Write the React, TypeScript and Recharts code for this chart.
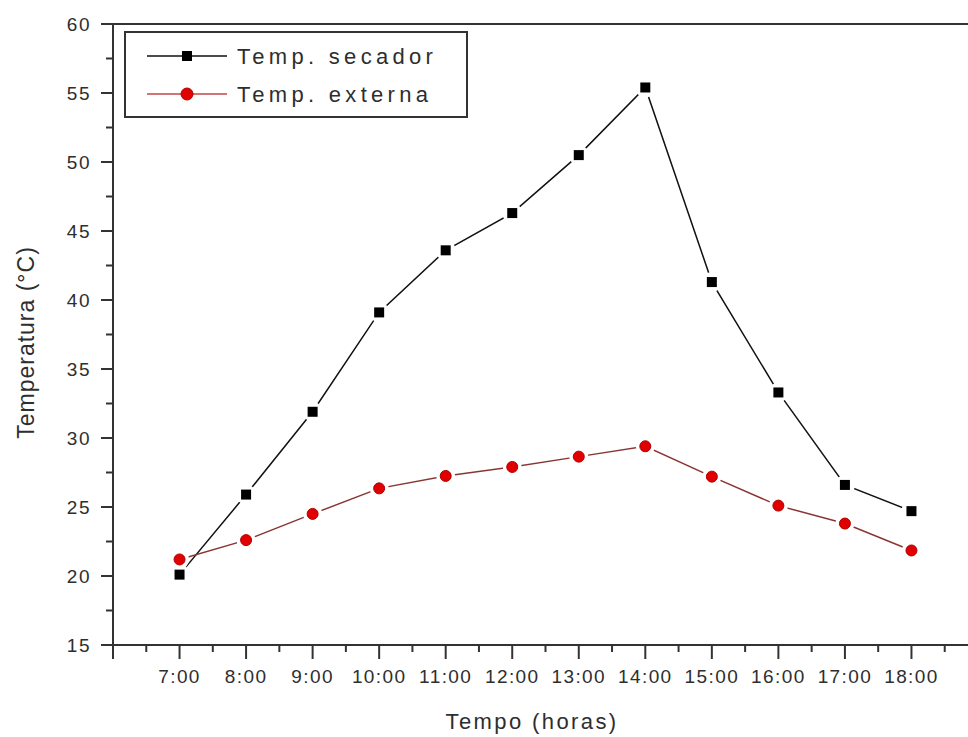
import React from 'react';
import { ComposedChart, Line, Scatter, XAxis, YAxis, Legend, ReferenceLine, Label } from 'recharts';

const hours = [7, 8, 9, 10, 11, 12, 13, 14, 15, 16, 17, 18];
const hourLabels = ['7:00', '8:00', '9:00', '10:00', '11:00', '12:00', '13:00', '14:00', '15:00', '16:00', '17:00', '18:00'];
const tempSecador = [20.1, 25.9, 31.9, 39.1, 43.6, 46.3, 50.5, 55.4, 41.3, 33.3, 26.6, 24.7];
const tempExterna = [21.2, 22.6, 24.5, 26.35, 27.25, 27.9, 28.65, 29.4, 27.2, 25.1, 23.8, 21.85];
const xTicks = [6, 6.5, 7, 7.5, 8, 8.5, 9, 9.5, 10, 10.5, 11, 11.5, 12, 12.5, 13, 13.5, 14, 14.5, 15, 15.5, 16, 16.5, 17, 17.5, 18, 18.5, 19];
const yTicks = [15, 17.5, 20, 22.5, 25, 27.5, 30, 32.5, 35, 37.5, 40, 42.5, 45, 47.5, 50, 52.5, 55, 57.5, 60];
const seriesNames = ['Temp. secador', 'Temp. externa'];

const data = hours.map((h, i) => ({ hour: h, secador: tempSecador[i], externa: tempExterna[i] }));

const FONT = '"Liberation Sans", Arial, sans-serif';
const AXIS = '#333';
const TEXT = '#2e2e2e';
const RED_LINE = '#8a3535';

const XTick = (props: any) => {
  const { x, y, payload } = props;
  const v = payload.value;
  const major = Number.isInteger(v);
  const idx = hours.indexOf(v);
  return (
    <g>
      <line x1={x} y1={y} x2={x} y2={y + (major ? 14 : 7)} stroke={AXIS} strokeWidth={2} />
      {idx >= 0 && (
        <text x={x} y={y + 38} textAnchor="middle" fontFamily={FONT} fontSize={19} letterSpacing={1.4} fill={TEXT}>
          {hourLabels[idx]}
        </text>
      )}
    </g>
  );
};

const YTick = (props: any) => {
  const { x, y, payload } = props;
  const v = payload.value;
  const major = v % 5 === 0;
  return (
    <g>
      <line x1={x - (major ? 12 : 7)} y1={y} x2={x} y2={y} stroke={AXIS} strokeWidth={2} />
      {major && (
        <text x={x - 22} y={y + 7} textAnchor="end" fontFamily={FONT} fontSize={19} letterSpacing={1.5} fill={TEXT}>
          {v}
        </text>
      )}
    </g>
  );
};

const SquareShape = (props: any) => {
  const { cx, cy } = props;
  if (cx == null || cy == null) return null;
  return (
    <g>
      <circle cx={cx} cy={cy} r={10} fill="#fff" />
      <rect x={cx - 5} y={cy - 5} width={10} height={10} fill="#000" />
    </g>
  );
};

const CircleShape = (props: any) => {
  const { cx, cy } = props;
  if (cx == null || cy == null) return null;
  return (
    <g>
      <circle cx={cx} cy={cy} r={9.5} fill="#fff" />
      <circle cx={cx} cy={cy} r={5.5} fill="#e00000" stroke="#b00000" strokeWidth={1} />
    </g>
  );
};

const LegendBox = () => (
  <svg width={344} height={87} style={{ display: 'block' }}>
    <rect x={1} y={1} width={342} height={85} fill="#fff" stroke={AXIS} strokeWidth={2} />
    <line x1={23} y1={25} x2={103} y2={25} stroke="#111" strokeWidth={1.5} />
    <rect x={58} y={20} width={10} height={10} fill="#000" />
    <text x={113} y={33} fontFamily={FONT} fontSize={22} letterSpacing={4.3} fill={TEXT}>{seriesNames[0]}</text>
    <line x1={23} y1={63} x2={103} y2={63} stroke="#c04848" strokeWidth={1.5} />
    <circle cx={63} cy={63} r={6} fill="#e00000" stroke="#b00000" strokeWidth={1} />
    <text x={113} y={71} fontFamily={FONT} fontSize={22} letterSpacing={4.3} fill={TEXT}>{seriesNames[1]}</text>
  </svg>
);

const YTitle = (props: any) => {
  const vb = props.viewBox || {};
  const cx = 26;
  const cy = (vb.y ?? 24) + (vb.height ?? 621) / 2 + 8;
  return (
    <text x={cx} y={cy} transform={`rotate(-90 ${cx} ${cy})`} textAnchor="middle" dominantBaseline="central"
      fontFamily={FONT} fontSize={23} letterSpacing={1} fill={TEXT}>
      Temperatura (°C)
    </text>
  );
};

const XTitle = () => {
  return (
    <text x={532} y={729} textAnchor="middle" fontFamily={FONT} fontSize={22} letterSpacing={2.4} fill={TEXT}>
      Tempo (horas)
    </text>
  );
};

export default function App() {
  return (
    <div style={{ position: 'absolute', left: 0, top: 0, width: 968, height: 737, overflow: 'hidden', background: '#fff' }}>
      <ComposedChart width={1000} height={737} data={data} margin={{ top: 24, right: 22, bottom: 32, left: 0 }}>
        <XAxis
          dataKey="hour"
          type="number"
          domain={[6, 19]}
          ticks={xTicks}
          interval={0}
          tick={<XTick />}
          tickLine={false}
          tickSize={0}
          tickMargin={0}
          height={60}
          axisLine={{ stroke: AXIS, strokeWidth: 2 }}
          allowDataOverflow
        >
          <Label content={<XTitle />} />
        </XAxis>
        <YAxis
          type="number"
          domain={[15, 60]}
          ticks={yTicks}
          interval={0}
          tick={<YTick />}
          tickLine={false}
          tickSize={0}
          tickMargin={0}
          width={113}
          axisLine={{ stroke: AXIS, strokeWidth: 2 }}
          allowDataOverflow
        >
          <Label content={<YTitle />} />
        </YAxis>
        <ReferenceLine y={60} stroke={AXIS} strokeWidth={2} />
        <Line type="linear" dataKey="secador" name={seriesNames[0]} stroke="#111" strokeWidth={1.5}
          dot={false} activeDot={false} isAnimationActive={false} />
        <Line type="linear" dataKey="externa" name={seriesNames[1]} stroke={RED_LINE} strokeWidth={1.5}
          dot={false} activeDot={false} isAnimationActive={false} />
        <Scatter dataKey="secador" legendType="none" shape={<SquareShape />} isAnimationActive={false} />
        <Scatter dataKey="externa" legendType="none" shape={<CircleShape />} isAnimationActive={false} />
        <Legend layout="vertical" align="center" verticalAlign="middle" content={<LegendBox />}
          wrapperStyle={{ position: 'absolute', left: 124, top: 31, width: 344, height: 87 }} />
      </ComposedChart>
    </div>
  );
}
